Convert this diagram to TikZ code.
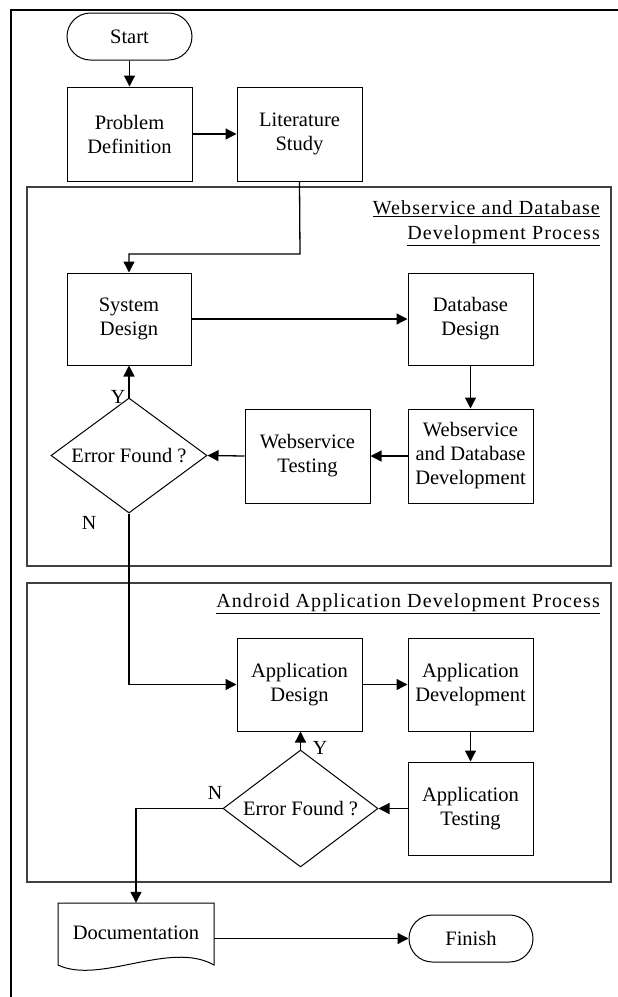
\documentclass[tikz,border=0pt]{standalone}
\usepackage{fontspec}
\setmainfont{Liberation Serif}
\usetikzlibrary{arrows.meta,shapes.geometric}
\begin{document}
\begin{tikzpicture}[x=1pt,y=-1pt,
  every node/.style={font=\fontsize{20.5}{24}\selectfont, align=center, inner sep=0pt},
  box/.style={draw, line width=1pt, minimum width=125pt, minimum height=94pt},
  term/.style={draw, line width=1pt, rounded corners=23.5pt, minimum width=125pt, minimum height=47pt},
  dec/.style={draw, diamond, line width=1pt, minimum width=156pt, minimum height=115pt},
  panel/.style={draw=black!75, line width=1.1pt},
  plabel/.style={font=\fontsize{20}{25}\selectfont\addfontfeature{LetterSpace=5.5}, align=right, anchor=east},
  arr/.style={line width=1.3pt, -{Triangle[length=11pt,width=11pt]}},
  yn/.style={font=\fontsize{20}{24}\selectfont}
]
\useasboundingbox (0,0) rectangle (618,997);
% outer frame
\draw[line width=1.8pt] (618,10) -- (11,10) -- (11,997);
% panels
\draw[panel] (27,187) rectangle (611,566);
\draw[panel] (27,583) rectangle (611,882);
\node[plabel] (wdpl) at (600,223) {\underline{Webservice and Database}\\\underline{Development Process}};
\node[plabel] (adpl) at (600,604) {\underline{Android Application Development Process}};
% nodes
\node[term] (start) at (129.5,36.5) {Start};
\node[box] (pd) at (129.5,134) {Problem\\Definition};
\node[box] (ls) at (299.5,134) {Literature\\Study};
\node[box, minimum width=124pt, minimum height=92pt] (sd) at (129,319) {System\\Design};
\node[box, minimum height=92pt] (db) at (470.5,319) {Database\\Design};
\node[box] (wdd) at (470.5,456) {Webservice\\and Database\\Development};
\node[box] (wt) at (307.5,456) {Webservice\\Testing};
\node[dec] (d1) at (129,455.5) {};
\node (d1t) at (d1.center) {Error Found ?};
\node[box, minimum height=93pt] (ad) at (299.5,684.5) {Application\\Design};
\node[box, minimum height=93pt] (adev) at (470.5,684.5) {Application\\Development};
\node[box, minimum height=93pt] (at) at (470.5,808.5) {Application\\Testing};
\node[dec, minimum width=155pt, minimum height=117pt] (d2) at (300.5,808.5) {};
\node (d2t) at (d2.center) {Error Found ?};
\draw[line width=1pt] (58,903) -- (214,903) -- (214,965) .. controls (170,940) and (100,985) .. (58,965) -- cycle;
\node[minimum width=156pt, minimum height=60pt] (doc) at (136,933) {Documentation};
\node[term, minimum width=124pt] (fin) at (471,938.5) {Finish};
% connectors
\coordinate (k1) at (300,254);
\draw[arr] (start) -- (pd);
\draw[arr] (pd) -- (ls);
\draw[arr] (ls.south) -- (k1) -| (sd.north);
\draw[arr] (sd) -- (db);
\draw[arr] (db) -- (wdd);
\draw[arr] (wdd) -- (wt);
\draw[arr] (wt.west) -- (d1.east);
\draw[arr] (d1.north) -- (sd.south);
\node[yn] (y1) at (118,397) {Y};
\draw[arr] (d1.south) |- (ad.west);
\node[yn] (n1) at (89,523) {N};
\draw[arr] (ad) -- (adev);
\draw[arr] (adev) -- (at);
\draw[arr] (at.west) -- (d2.east);
\draw[arr] (d2.north) -- (d2.north |- ad.south);
\node[yn] (y2) at (320,748) {Y};
\draw[arr] (d2.west) -| (doc.north);
\node[yn] (n2) at (215,793) {N};
\draw[arr] (doc.east |- fin.west) -- (fin.west);
\end{tikzpicture}
\end{document}
